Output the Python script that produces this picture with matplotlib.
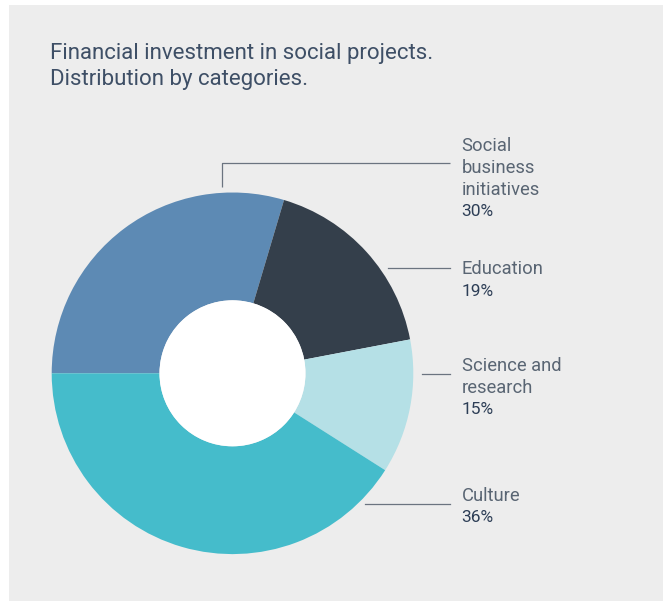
import matplotlib
matplotlib.use("Agg")
import matplotlib.pyplot as plt
from matplotlib.patches import Rectangle, Circle

# ---- data ----
categories = ["Social business initiatives", "Education", "Science and research", "Culture"]
label_lines = [["Social", "business", "initiatives"], ["Education"], ["Science and", "research"], ["Culture"]]
percent_labels = ["30%", "19%", "15%", "36%"]
# shares as drawn in the reference picture (wedge sizes)
drawn_shares = [29.6, 17.4, 12.0, 41.0]
colors = ["#5d8ab4", "#343f4b", "#b5e0e6", "#45bccb"]

title_lines = ["Financial investment in social projects.", "Distribution by categories."]

W, H = 664, 601
fig = plt.figure(figsize=(W / 100, H / 100), dpi=100, facecolor="white")
ax = fig.add_axes([0, 0, 1, 1])

def Y(py):
    return H - py

# donut geometry (pixels)
cx, cy, R, r_in = 232.5, 373.3, 180.8, 73.0

ax.pie(drawn_shares, colors=colors, startangle=180, counterclock=False,
       center=(cx, Y(cy)), radius=R,
       wedgeprops=dict(width=R - r_in, linewidth=0, edgecolor="none"))

ax.set_xlim(0, W)
ax.set_ylim(0, H)
ax.set_aspect("equal")
ax.axis("off")

# background panel
ax.add_patch(Rectangle((9, Y(601)), 654, 596, facecolor="#ededed", edgecolor="none", zorder=-10))
# white hole
ax.add_patch(Circle((cx, Y(cy)), r_in, facecolor="white", edgecolor="none", zorder=5))

# title
for i, t in enumerate(title_lines):
    ax.text(50, Y(59.5 + i * 26), t, fontsize=16, color="#3e4f66",
            family="Roboto", va="baseline", ha="left")

# leader lines
lc = "#6b7480"
ax.plot([222, 222, 450], [Y(187), Y(163.3), Y(163.3)], color=lc, lw=0.9, solid_capstyle="butt")
ax.plot([388, 450], [Y(268.3), Y(268.3)], color=lc, lw=0.9)
ax.plot([422, 450], [Y(374.3), Y(374.3)], color=lc, lw=0.9)
ax.plot([365, 450], [Y(504.3), Y(504.3)], color=lc, lw=0.9)

# labels
first_baselines = [150.7, 274.0, 370.7, 501.0]
step = 22
lx = 461.5
for lines, pct, b0 in zip(label_lines, percent_labels, first_baselines):
    for j, ln in enumerate(lines):
        ax.text(lx, Y(b0 + j * step), ln, fontsize=13.2, color="#596573",
                family="Roboto", va="baseline", ha="left")
    ax.text(lx, Y(b0 + len(lines) * step - 0.5), pct, fontsize=12.5, color="#2d3e56",
            family="Roboto", va="baseline", ha="left")

fig.savefig("out.png", dpi=100, facecolor="white")
